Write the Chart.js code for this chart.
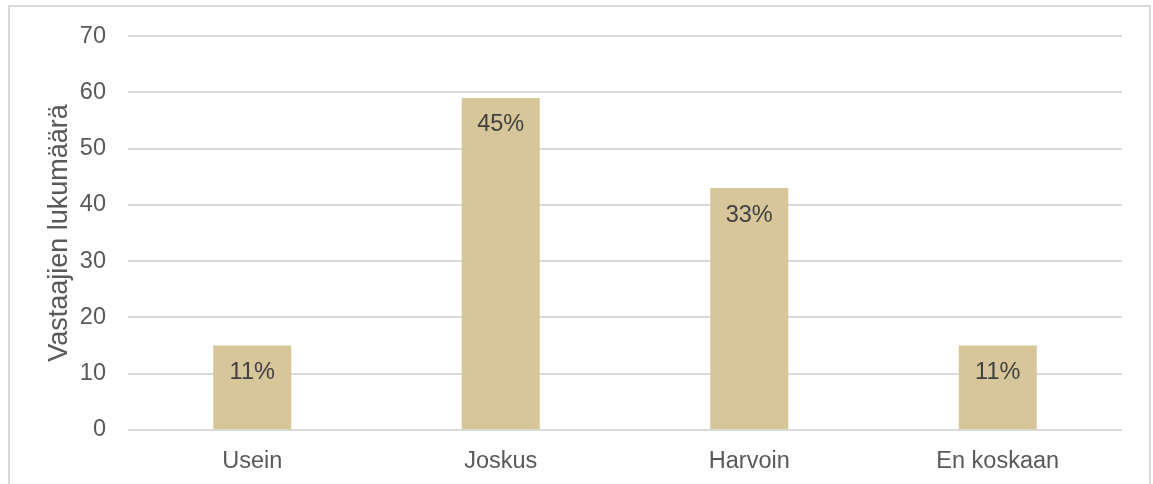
<!DOCTYPE html>
<html>
<head>
<meta charset="utf-8">
<script src="https://cdn.jsdelivr.net/npm/chart.js@4/dist/chart.umd.min.js"></script>
<style>
  html, body { margin: 0; padding: 0; background: #ffffff; overflow: hidden; }
  #frame { position: absolute; left: 8px; top: 5px; width: 1143px; height: 500px;
           border: 2px solid #d9d9d9; box-sizing: border-box; }
  #wrap { position: absolute; left: 0; top: 0; width: 1153px; height: 484px; }
</style>
</head>
<body>
<div id="frame"></div>
<div id="wrap"><canvas id="chart" width="1153" height="484"></canvas></div>
<script>
// Vastausten jakauma
const categories = ['Usein', 'Joskus', 'Harvoin', 'En koskaan'];
const counts = [15, 59, 43, 15];
const yTicks = [0, 10, 20, 30, 40, 50, 60, 70];

const total = counts.reduce((a, b) => a + b, 0);
const percentLabels = counts.map(v => Math.round(v / total * 100) + '%');

const FONT = '"Liberation Sans", Arial, sans-serif';
const TEXT_SIZE = 23.5;

// Prosenttiluvut pylväiden yläosaan
const barLabels = {
  id: 'barLabels',
  afterDatasetsDraw(chart) {
    const ctx = chart.ctx;
    const meta = chart.getDatasetMeta(0);
    ctx.save();
    ctx.font = TEXT_SIZE + 'px ' + FONT;
    ctx.fillStyle = '#404040';
    ctx.textAlign = 'center';
    ctx.textBaseline = 'middle';
    meta.data.forEach((bar, i) => {
      ctx.fillText(percentLabels[i], bar.x, bar.y + 27);
    });
    ctx.restore();
  }
};

new Chart(document.getElementById('chart'), {
  type: 'bar',
  data: {
    labels: categories,
    datasets: [{
      data: counts,
      backgroundColor: '#d8c69b',
      borderWidth: 0,
      barPercentage: 0.314,
      categoryPercentage: 1
    }]
  },
  options: {
    responsive: false,
    animation: false,
    layout: { padding: { top: 35, right: 31, left: 0, bottom: 0 } },
    plugins: { legend: { display: false }, tooltip: { enabled: false } },
    scales: {
      x: {
        grid: { display: false, drawTicks: false },
        border: { display: false },
        ticks: { color: '#595959', font: { family: FONT, size: TEXT_SIZE }, padding: 17 },
        afterFit(scale) { scale.height = 54; }
      },
      y: {
        min: 0,
        max: 70,
        afterBuildTicks(scale) { scale.ticks = yTicks.map(v => ({ value: v })); },
        grid: { color: '#d9d9d9', lineWidth: 2, drawTicks: false },
        border: { display: false },
        ticks: { color: '#595959', font: { family: FONT, size: TEXT_SIZE }, padding: 22 },
        title: {
          display: true,
          text: 'Vastaajien lukumäärä',
          color: '#595959',
          font: { family: FONT, size: 27 },
          padding: { top: 43, bottom: 0 }
        },
        afterFit(scale) { scale.width = 128; }
      }
    }
  },
  plugins: [barLabels]
});
</script>
</body>
</html>
